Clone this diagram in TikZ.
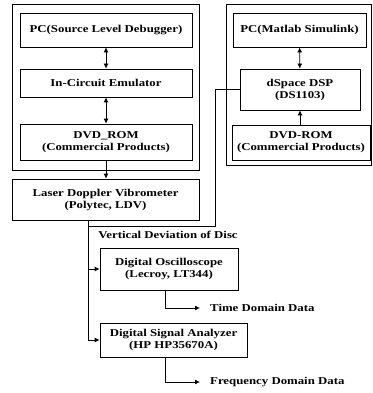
\documentclass[tikz,border=0pt]{standalone}
\usepackage{fontspec}
\setmainfont{Liberation Serif}[FakeStretch=1.22]
\usetikzlibrary{arrows.meta}

\begin{document}
\begin{tikzpicture}[x=1pt, y=-1pt,
  box/.style={draw, line width=0.8pt, align=center, inner sep=0pt,
    font=\fontsize{10.5}{12}\selectfont\bfseries},
  datalabel/.style={anchor=west, inner xsep=10pt, font=\fontsize{10.5}{12}\selectfont\bfseries},
  link/.style={line width=0.8pt, >={Latex[length=5pt,width=5pt]}}]
  \useasboundingbox (0,0) rectangle (372,393);

  % Embedded side (left group)
  \draw[line width=0.6pt] (12,4) rectangle (199,170);
  \node[box, minimum width=172, minimum height=34] (pcdbg) at (106,30) {PC(Source Level Debugger)};
  \node[box, minimum width=172, minimum height=28] (ice) at (106,83) {In-Circuit Emulator};
  \node[box, minimum width=172, minimum height=36] (dvdl) at (106,142) {DVD\_ROM\\(Commercial Products)};

  % Controller side (right group)
  \draw[line width=0.6pt] (226,4) rectangle (371,165);
  \node[box, minimum width=133, minimum height=34] (pcml) at (299.5,30) {PC(Matlab Simulink)};
  \node[box, minimum width=120, minimum height=41] (dsp) at (300,89.5) {dSpace DSP\\(DS1103)};
  \node[box, minimum width=138, minimum height=35] (dvdr) at (301,142.5) {DVD-ROM\\(Commercial Products)};

  % Measurement chain
  \node[box, minimum width=187, minimum height=41] (ldv) at (105.5,199.5) {Laser Doppler Vibrometer\\(Polytec, LDV)};
  \node[box, minimum width=138, minimum height=42] (osc) at (169,269) {Digital Oscilloscope\\(Lecroy, LT344)};
  \node[box, minimum width=147, minimum height=34] (dsa) at (173.5,340) {Digital Signal Analyzer\\(HP HP35670A)};
  \node[datalabel, anchor=center, inner xsep=0pt] (vdd) at (168,235) {Vertical Deviation of Disc};
  \node[datalabel] (tdd) at (200,308) {Time Domain Data};
  \node[datalabel] (fdd) at (200,382) {Frequency Domain Data};
  \coordinate (tap) at (88,226);

  % Connections
  \draw[link, <->] (pcdbg) -- (ice);
  \draw[link, <->] (ice) -- (dvdl);
  \draw[link, ->] (dvdl) -- (dvdl |- ldv.north);
  \draw[link, <->] (pcml) -- (dsp);
  \draw[link, ->] (dvdr.north -| dsp) -- (dsp);
  \draw[link] (dsp.west) -| (215,226) -- (tap);
  \draw[link, ->] (ldv.south -| tap) |- (dsa.west);
  \draw[link, ->] (tap |- osc.west) -- (osc.west);
  \draw[link, ->] ([xshift=-4]osc.south) |- (tdd.west);
  \draw[link, ->] ([xshift=-8.5]dsa.south) |- (fdd.west);
\end{tikzpicture}
\end{document}
